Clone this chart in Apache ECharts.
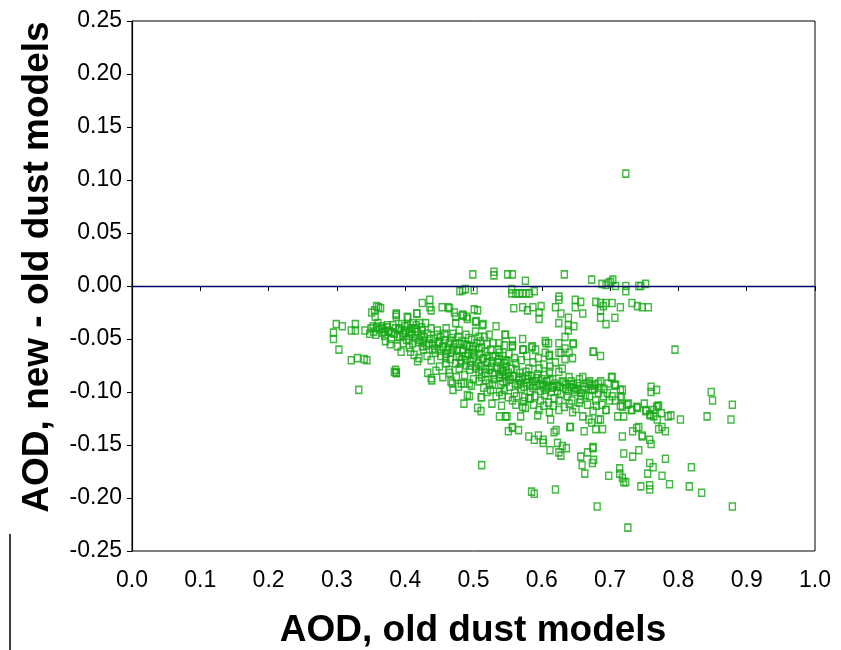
<!DOCTYPE html>
<html>
<head>
<meta charset="utf-8">
<script src="https://cdn.jsdelivr.net/npm/echarts@6/dist/echarts.min.js"></script>
<style>
  html, body { margin: 0; padding: 0; background: #fff; }
  #chart { width: 841px; height: 650px; }
</style>
</head>
<body>
<div id="chart"></div>
<script>
// tick labels
const xTicks = ["0.0", "0.1", "0.2", "0.3", "0.4", "0.5", "0.6", "0.7", "0.8", "0.9", "1.0"];
const yTicks = ["-0.25", "-0.20", "-0.15", "-0.10", "-0.05", "0.00", "0.05", "0.10", "0.15", "0.20", "0.25"];

// [AOD old, AOD new - old]
const nearZero = [
  [0.480,-0.005],[0.488,-0.003],[0.499,0.011],[0.501,-0.004],[0.484,-0.004],[0.530,0.0135],[0.530,0.010],
  [0.550,0.011],[0.557,0.011],[0.576,0.005],[0.633,0.011],[0.673,0.006],[0.694,0.001],[0.701,0.004],
  [0.704,0.006],[0.708,0.000],[0.698,0.003],[0.688,0.002],[0.723,0.000],[0.723,-0.005],[0.742,0.000],
  [0.745,0.000],[0.752,0.002],[0.556,-0.003],[0.556,-0.007],[0.562,-0.007],[0.567,-0.007],[0.572,-0.007],
  [0.577,-0.007],[0.582,-0.007],[0.589,-0.005],[0.625,-0.010],[0.625,-0.013],[0.649,-0.013],[0.657,-0.015],
  [0.649,-0.020],[0.679,-0.015],[0.686,-0.016],[0.694,-0.016],[0.703,-0.016],[0.715,-0.020],[0.732,-0.016],
  [0.740,-0.019],[0.747,-0.020],[0.756,-0.020],[0.686,-0.023],[0.690,-0.019],[0.559,-0.021],[0.572,-0.020],
  [0.579,-0.023],[0.587,-0.020],[0.599,-0.019],[0.596,-0.025],[0.596,-0.031],[0.620,-0.020],[0.628,-0.026],
  [0.639,-0.030],[0.639,-0.037],[0.639,-0.042],[0.647,-0.038],[0.660,-0.026],[0.625,-0.035],[0.686,-0.030],
  [0.694,-0.036],[0.707,-0.030],[0.501,-0.022],[0.506,-0.023],[0.723,0.106]
];

const leftGroup = [
  [0.361,-0.020],[0.358,-0.019],[0.364,-0.021],[0.355,-0.023],[0.351,-0.025],[0.356,-0.029],[0.387,-0.026],
  [0.387,-0.029],[0.403,-0.029],[0.417,-0.026],[0.425,-0.016],[0.436,-0.013],[0.436,-0.020],[0.438,-0.023],
  [0.454,-0.020],[0.463,-0.020],[0.465,-0.021],[0.472,-0.025],[0.485,-0.028],[0.299,-0.036],[0.308,-0.038],
  [0.295,-0.044],[0.295,-0.050],[0.321,-0.042],[0.327,-0.036],[0.327,-0.042],[0.341,-0.042],[0.350,-0.040],
  [0.354,-0.043],[0.358,-0.039],[0.362,-0.041],[0.366,-0.044],[0.348,-0.045],[0.357,-0.046],[0.303,-0.060],
  [0.321,-0.070],[0.330,-0.068],[0.340,-0.069],[0.344,-0.070],[0.386,-0.079],[0.387,-0.082],[0.332,-0.098],
  [0.439,-0.089],[0.469,-0.092],[0.486,-0.092],[0.486,-0.111],[0.491,-0.103]
];

const mainBand = [
  [0.387,-0.027],[0.404,-0.030],[0.417,-0.026],[0.474,-0.029],[0.484,-0.027],[0.490,-0.029],[0.504,-0.033],
  [0.514,-0.036],[0.533,-0.038],[0.546,-0.046],[0.365,-0.038],[0.374,-0.037],[0.382,-0.037],[0.369,-0.043],
  [0.376,-0.042],[0.384,-0.045],[0.391,-0.040],[0.399,-0.038],[0.411,-0.035],[0.406,-0.043],[0.421,-0.035],
  [0.430,-0.035],[0.425,-0.042],[0.438,-0.040],[0.447,-0.042],[0.460,-0.040],[0.474,-0.035],[0.479,-0.042],
  [0.489,-0.046],[0.503,-0.043],[0.508,-0.048],[0.523,-0.046],[0.538,-0.054],[0.545,-0.056],[0.389,-0.057],
  [0.394,-0.062],[0.411,-0.054],[0.408,-0.062],[0.421,-0.051],[0.425,-0.057],[0.435,-0.054],[0.440,-0.060],
  [0.450,-0.053],[0.455,-0.057],[0.464,-0.054],[0.469,-0.060],[0.479,-0.054],[0.484,-0.062],[0.494,-0.057],
  [0.499,-0.063],[0.508,-0.059],[0.518,-0.062],[0.528,-0.067],[0.538,-0.063],[0.547,-0.070],[0.418,-0.071],
  [0.433,-0.082],[0.438,-0.087],[0.450,-0.076],[0.460,-0.073],[0.464,-0.079],[0.474,-0.073],[0.479,-0.078],
  [0.489,-0.075],[0.494,-0.079],[0.503,-0.076],[0.508,-0.081],[0.518,-0.078],[0.528,-0.082],[0.538,-0.086],
  [0.542,-0.081],[0.384,-0.081],[0.387,-0.082],[0.467,-0.090],[0.482,-0.092],[0.494,-0.092],[0.508,-0.090],
  [0.525,-0.098],[0.538,-0.100],[0.494,-0.104],[0.511,-0.105],
  [0.491,-0.031],[0.503,-0.034],[0.513,-0.037],[0.547,-0.046],[0.572,-0.050],[0.573,-0.060],[0.585,-0.058],
  [0.591,-0.060],[0.605,-0.052],[0.610,-0.054],[0.605,-0.063],[0.611,-0.066],[0.625,-0.054],[0.634,-0.048],
  [0.634,-0.059],[0.646,-0.054],[0.625,-0.063],[0.634,-0.069],[0.645,-0.068],[0.675,-0.062],[0.686,-0.066],
  [0.557,-0.052],[0.557,-0.057],[0.795,-0.060],
  [0.557,-0.056],[0.572,-0.060],[0.586,-0.057],[0.606,-0.054],[0.611,-0.065],[0.628,-0.063],[0.640,-0.063],
  [0.646,-0.055],[0.676,-0.062],[0.545,-0.073],[0.562,-0.073],[0.581,-0.078],[0.596,-0.078],[0.611,-0.081],
  [0.625,-0.081],[0.640,-0.086],[0.660,-0.086],[0.669,-0.092],[0.683,-0.092],[0.703,-0.086],[0.708,-0.093],
  [0.718,-0.098],[0.715,-0.104],[0.718,-0.114],[0.696,-0.101],[0.552,-0.086],[0.567,-0.089],[0.586,-0.090],
  [0.601,-0.093],[0.616,-0.095],[0.635,-0.097],[0.650,-0.098],[0.664,-0.103],[0.679,-0.108],[0.674,-0.098],
  [0.542,-0.103],[0.557,-0.108],[0.572,-0.114],[0.581,-0.106],[0.596,-0.117],[0.611,-0.119],[0.625,-0.117],
  [0.645,-0.119],[0.660,-0.123],[0.669,-0.126],[0.683,-0.126],[0.694,-0.117],[0.547,-0.123],[0.569,-0.123],
  [0.594,-0.122],[0.613,-0.126],[0.642,-0.133],[0.557,-0.133]
];

const coreFill = [
  [0.470,-0.098],[0.478,-0.095],[0.497,-0.094],[0.515,-0.096],[0.520,-0.100],[0.528,-0.093],[0.533,-0.104],
  [0.545,-0.098],[0.548,-0.090],[0.553,-0.095],[0.560,-0.101],[0.565,-0.093],[0.570,-0.097],[0.575,-0.105],
  [0.578,-0.091],[0.583,-0.099],[0.590,-0.104],[0.593,-0.094],[0.598,-0.099],[0.604,-0.103],[0.607,-0.090],
  [0.614,-0.100],[0.618,-0.106],[0.622,-0.094],[0.628,-0.102],[0.632,-0.091],[0.637,-0.104],[0.641,-0.095],
  [0.644,-0.108],[0.648,-0.100],[0.652,-0.092],[0.655,-0.110],[0.658,-0.101],[0.663,-0.095],[0.667,-0.112],
  [0.670,-0.104],[0.677,-0.097],[0.680,-0.113],[0.683,-0.101],[0.562,-0.112],[0.576,-0.115],[0.588,-0.112],
  [0.603,-0.113],[0.617,-0.113],[0.633,-0.114],[0.650,-0.116],[0.527,-0.111],[0.541,-0.113],[0.518,-0.089],
  [0.531,-0.084],[0.544,-0.080],[0.556,-0.078],[0.568,-0.082],[0.580,-0.085],[0.592,-0.087],[0.604,-0.084],
  [0.616,-0.088],[0.630,-0.090],[0.646,-0.093],[0.655,-0.088],[0.670,-0.090],
  [0.370,-0.047],[0.376,-0.043],[0.380,-0.050],[0.392,-0.048],[0.398,-0.044],[0.402,-0.051],[0.407,-0.047],
  [0.415,-0.049],[0.418,-0.043],[0.428,-0.048],[0.433,-0.045],[0.442,-0.050],[0.447,-0.046],[0.452,-0.048],
  [0.458,-0.051],[0.468,-0.049],[0.473,-0.055],[0.483,-0.052],[0.490,-0.056],[0.497,-0.051],[0.505,-0.054],
  [0.512,-0.058],[0.520,-0.055],[0.525,-0.060],[0.532,-0.066],[0.444,-0.063],[0.452,-0.066],[0.460,-0.064],
  [0.466,-0.069],[0.475,-0.066],[0.482,-0.070],[0.488,-0.066],[0.495,-0.071],[0.500,-0.068],[0.507,-0.073],
  [0.513,-0.069],[0.520,-0.072],[0.526,-0.076],[0.535,-0.072],[0.540,-0.078],[0.548,-0.076],[0.427,-0.060],
  [0.432,-0.066],[0.438,-0.070],[0.413,-0.065],[0.420,-0.068],[0.406,-0.058],[0.397,-0.054],[0.378,-0.055],
  [0.371,-0.052],[0.465,-0.082],[0.475,-0.086],[0.487,-0.084],[0.500,-0.088],[0.512,-0.086],[0.523,-0.092],
  [0.455,-0.086],[0.445,-0.080]
];

const coreDense = [
  [0.392,-0.041],[0.396,-0.046],[0.401,-0.042],[0.405,-0.050],[0.410,-0.045],[0.414,-0.040],[0.419,-0.053],
  [0.423,-0.047],[0.426,-0.052],[0.431,-0.056],[0.436,-0.050],[0.440,-0.055],[0.443,-0.059],[0.448,-0.053],
  [0.451,-0.061],[0.456,-0.058],[0.459,-0.068],[0.462,-0.060],[0.467,-0.063],[0.471,-0.058],[0.476,-0.061],
  [0.479,-0.067],[0.481,-0.073],[0.485,-0.060],[0.489,-0.070],[0.492,-0.064],[0.496,-0.075],[0.498,-0.060],
  [0.502,-0.065],[0.504,-0.078],[0.509,-0.064],[0.511,-0.076],[0.515,-0.068],[0.517,-0.082],[0.521,-0.066],
  [0.523,-0.079],[0.527,-0.071],[0.530,-0.088],[0.534,-0.077],[0.537,-0.069],[0.539,-0.083],[0.543,-0.090],
  [0.546,-0.085],[0.549,-0.071],[0.551,-0.082],[0.554,-0.088],[0.558,-0.085],[0.561,-0.092],[0.563,-0.079],
  [0.566,-0.087],[0.569,-0.092],[0.572,-0.086],[0.574,-0.095],[0.577,-0.081],[0.579,-0.088],[0.582,-0.094],
  [0.585,-0.085],[0.587,-0.096],[0.590,-0.090],[0.594,-0.083],[0.597,-0.092],[0.600,-0.088],[0.603,-0.095],
  [0.606,-0.098],[0.609,-0.094],[0.612,-0.089],[0.615,-0.096],[0.619,-0.092],[0.623,-0.099],[0.626,-0.095],
  [0.635,-0.093],[0.639,-0.099],[0.643,-0.090],[0.647,-0.096],[0.653,-0.097],[0.660,-0.098],[0.666,-0.092],
  [0.672,-0.094],[0.678,-0.093],[0.685,-0.096],[0.690,-0.104],[0.699,-0.108],[0.353,-0.038],[0.360,-0.035],
  [0.367,-0.040],[0.373,-0.039],[0.380,-0.044],[0.386,-0.040],[0.389,-0.048],[0.395,-0.036],[0.403,-0.038],
  [0.409,-0.040],[0.416,-0.037],[0.424,-0.039],[0.458,-0.045],[0.466,-0.052],[0.470,-0.045],[0.478,-0.048],
  [0.486,-0.055],[0.493,-0.049],[0.500,-0.057],[0.510,-0.052],[0.516,-0.048],[0.528,-0.054],[0.536,-0.060],
  [0.543,-0.066],[0.552,-0.064],[0.560,-0.068],[0.570,-0.070],[0.578,-0.066],[0.587,-0.072],[0.595,-0.068],
  [0.603,-0.074],[0.612,-0.076],[0.620,-0.072],[0.630,-0.078],[0.540,-0.093],[0.551,-0.105],[0.563,-0.104],
  [0.573,-0.109],[0.583,-0.106],[0.598,-0.108],[0.610,-0.110],[0.625,-0.108],[0.640,-0.111],[0.657,-0.107],
  [0.675,-0.118],[0.688,-0.112]
];

const rightTail = [
  [0.702,-0.086],[0.697,-0.092],[0.707,-0.094],[0.715,-0.098],[0.686,-0.090],[0.691,-0.097],[0.760,-0.095],
  [0.760,-0.100],[0.768,-0.098],[0.848,-0.100],[0.850,-0.108],[0.879,-0.112],[0.703,-0.104],[0.717,-0.105],
  [0.708,-0.108],[0.715,-0.113],[0.725,-0.112],[0.694,-0.117],[0.731,-0.117],[0.739,-0.114],[0.750,-0.111],
  [0.753,-0.117],[0.758,-0.121],[0.764,-0.117],[0.770,-0.113],[0.775,-0.120],[0.789,-0.122],[0.803,-0.126],
  [0.842,-0.123],[0.877,-0.126],[0.711,-0.123],[0.720,-0.123],[0.752,-0.118],[0.759,-0.122],[0.764,-0.123],
  [0.768,-0.114],[0.771,-0.113],[0.769,-0.126],[0.785,-0.123],[0.727,-0.111],[0.732,-0.117],[0.740,-0.115],
  [0.742,-0.133],[0.747,-0.141],[0.771,-0.135],[0.776,-0.133],[0.781,-0.137],[0.758,-0.145],[0.760,-0.149],
  [0.742,-0.155],[0.758,-0.167],[0.763,-0.171],[0.781,-0.163],[0.755,-0.177],[0.776,-0.179],[0.819,-0.171],
  [0.745,-0.189],[0.758,-0.188],[0.758,-0.192],[0.787,-0.187],[0.816,-0.189],[0.834,-0.195],[0.879,-0.208],
  [0.662,-0.137],[0.679,-0.135],[0.689,-0.135],[0.686,-0.126],[0.673,-0.129],[0.718,-0.142],[0.733,-0.137],
  [0.739,-0.134],[0.747,-0.142],[0.675,-0.152]
];

const lowerTail = [
  [0.506,-0.115],[0.511,-0.118],[0.512,-0.105],[0.538,-0.123],[0.549,-0.123],[0.551,-0.137],[0.557,-0.134],
  [0.566,-0.136],[0.581,-0.142],[0.589,-0.145],[0.595,-0.141],[0.602,-0.145],[0.602,-0.148],[0.612,-0.155],
  [0.623,-0.148],[0.630,-0.151],[0.625,-0.157],[0.628,-0.160],[0.636,-0.153],[0.641,-0.133],[0.618,-0.138],
  [0.621,-0.136],[0.657,-0.161],[0.659,-0.169],[0.663,-0.177],[0.667,-0.157],[0.674,-0.167],[0.675,-0.153],
  [0.676,-0.164],[0.698,-0.179],[0.720,-0.158],[0.733,-0.161],[0.714,-0.172],[0.714,-0.177],[0.718,-0.181],
  [0.723,-0.185],[0.720,-0.185],[0.512,-0.169],[0.585,-0.194],[0.589,-0.196],[0.620,-0.192],[0.681,-0.208],
  [0.726,-0.228]
];

const allPoints = [].concat(nearZero, leftGroup, mainBand, coreFill, coreDense, rightTail, lowerTail);

const chart = echarts.init(document.getElementById("chart"), null, { renderer: "canvas" });

const tickFont = { color: "#000", fontFamily: "Liberation Sans, Arial, sans-serif", fontSize: 23 };
const titleFont = "bold 37px 'Liberation Sans', Arial, sans-serif";

chart.setOption({
  animation: false,
  backgroundColor: "#fff",
  grid: {
    left: 132, right: 26, top: 21, bottom: 99,
    show: true, borderColor: "#000", borderWidth: 1, backgroundColor: "transparent",
  },
  xAxis: {
    type: "value",
    min: 0, max: 1, interval: 0.1,
    axisLine: { lineStyle: { color: "#000", width: 1.2 } },
    axisTick: { show: true, length: 5, inside: false, lineStyle: { color: "#000" } },
    splitLine: { show: false },
    axisLabel: {
      ...tickFont, margin: 18,
      formatter: (v) => xTicks[Math.round(v * 10)],
    },
  },
  yAxis: {
    type: "value",
    min: -0.25, max: 0.25, interval: 0.05,
    axisLine: { lineStyle: { color: "#000", width: 1.2 } },
    axisTick: { show: true, length: 5, inside: false, lineStyle: { color: "#000" } },
    splitLine: { show: false },
    axisLabel: {
      ...tickFont, margin: 10,
      formatter: (v) => yTicks[Math.round((v + 0.25) * 20)],
    },
  },
  series: [
    {
      type: "scatter",
      symbol: "rect",
      symbolSize: [6, 7],
      itemStyle: { color: "rgba(0,0,0,0)", borderColor: "#14a814", borderWidth: 1.5 },
      data: allPoints,
      markLine: {
        silent: true,
        symbol: "none",
        label: { show: false },
        lineStyle: { color: "#000066", width: 1.3, type: "solid" },
        data: [{ yAxis: 0 }],
      },
    },
  ],
  graphic: [
    {
      type: "text",
      x: 38, y: 267, rotation: Math.PI / 2,
      style: { text: "AOD, new - old dust models", font: titleFont, fill: "#000", align: "center", verticalAlign: "middle" },
    },
    {
      type: "text",
      x: 473, y: 631,
      style: { text: "AOD, old dust models", font: titleFont, fill: "#000", align: "center", verticalAlign: "middle" },
    },
    {
      type: "line",
      shape: { x1: 10, y1: 534, x2: 10, y2: 650 },
      style: { stroke: "#000", lineWidth: 1.5 },
    },
  ],
});
</script>
</body>
</html>
